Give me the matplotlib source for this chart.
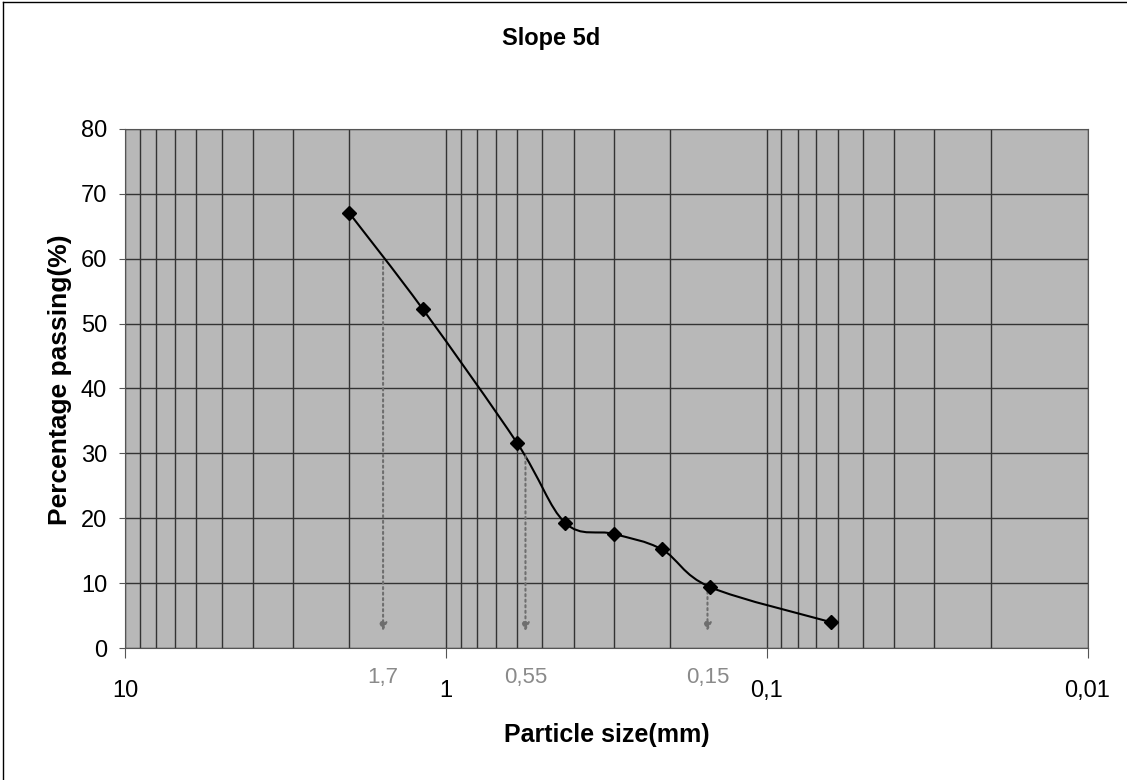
import numpy as np
import matplotlib
matplotlib.use("Agg")
import matplotlib.pyplot as plt
from matplotlib.path import Path
from matplotlib.patches import PathPatch
from matplotlib.lines import Line2D

plt.rcParams['font.family'] = ['Liberation Sans', 'DejaVu Sans']

# sieve data
sizes = [2.0, 1.18, 0.6, 0.425, 0.3, 0.212, 0.15, 0.063]
passing = [67.0, 52.2, 31.6, 19.3, 17.6, 15.2, 9.4, 4.0]

# characteristic diameters (arrow position, level on curve, label)
d_pos = [1.57, 0.565, 0.153]
d_level = [60, 30, 10]
d_labels = ['1,7', '0,55', '0,15']

x_ticks = [10, 1, 0.1, 0.01]
x_ticklabels = ['10', '1', '0,1', '0,01']
y_ticks = list(range(0, 81, 10))

fig = plt.figure(figsize=(11.27, 7.8), dpi=100)
ax = fig.add_axes([0.111, 0.169, 0.854, 0.666])
ax.set_facecolor('#b8b8b8')
ax.set_xscale('log')
ax.set_xlim(10, 0.01)
ax.set_ylim(0, 80)

# grid: minor log lines vertical, every 10 horizontal
minor = [m * 10.0 ** e for e in (-2, -1, 0) for m in range(2, 10)]
ax.set_xticks(x_ticks)
ax.set_xticks(minor, minor=True)
ax.set_xticklabels(x_ticklabels)
ax.set_yticks(y_ticks)
ax.grid(True, which='both', axis='x', color='#333333', lw=1.0)
ax.grid(True, which='major', axis='y', color='#333333', lw=1.0)
ax.tick_params(axis='x', which='minor', length=0)
ax.tick_params(axis='both', which='major', labelsize=17, direction='out',
               color='#555555')
ax.tick_params(axis='x', which='major', length=7, pad=16)
ax.tick_params(axis='y', which='major', length=4, pad=9)
for s in ax.spines.values():
    s.set_color('#555555')

# smoothed curve (Catmull-Rom as Bezier, in log-x space)
u = np.log10(sizes)
p = np.column_stack([u, passing])
pp = np.vstack([p[0], p, p[-1]])
verts = [p[0]]
codes = [Path.MOVETO]
for i in range(1, len(pp) - 2):
    c1 = pp[i] + (pp[i + 1] - pp[i - 1]) / 6
    c2 = pp[i + 1] - (pp[i + 2] - pp[i]) / 6
    verts += [c1, c2, pp[i + 1]]
    codes += [Path.CURVE4] * 3
verts = np.array(verts)
verts[:, 0] = 10 ** verts[:, 0]
ax.add_patch(PathPatch(Path(verts, codes), fill=False, ec='black', lw=1.5,
                       zorder=3))
ax.plot(sizes, passing, ls='none', marker='D', ms=7, color='black', zorder=4)

# arrows for D60 / D30 / D10
for xp, lv, lab in zip(d_pos, d_level, d_labels):
    ax.annotate('', xy=(xp, 2.2), xytext=(xp, lv),
                arrowprops=dict(arrowstyle='-|>', color='#6e6e6e', lw=1.5,
                                ls=':', mutation_scale=12), zorder=3)
    ax.text(xp, -4.5, lab, ha='center', va='center', fontsize=16,
            color='#8a8a8a')

fig.text(0.489, 1 - 38 / 780, 'Slope 5d', ha='center', va='center',
         fontsize=17, fontweight='bold')
fig.text(0.538, 1 - 735 / 780, 'Particle size(mm)', ha='center',
         va='center', fontsize=18, fontweight='bold')
fig.text(0.053, 1 - 380 / 780, 'Percentage passing(%)', ha='center',
         va='center', rotation=90, fontsize=19, fontweight='bold')

# outer frame (left and top edges of the chart area)
fig.add_artist(Line2D([0.003, 0.003], [0.0, 0.997], transform=fig.transFigure,
                      color='black', lw=1.0))
fig.add_artist(Line2D([0.003, 1.0], [0.997, 0.997], transform=fig.transFigure,
                      color='black', lw=1.0))

fig.savefig('out.png', dpi=100)
